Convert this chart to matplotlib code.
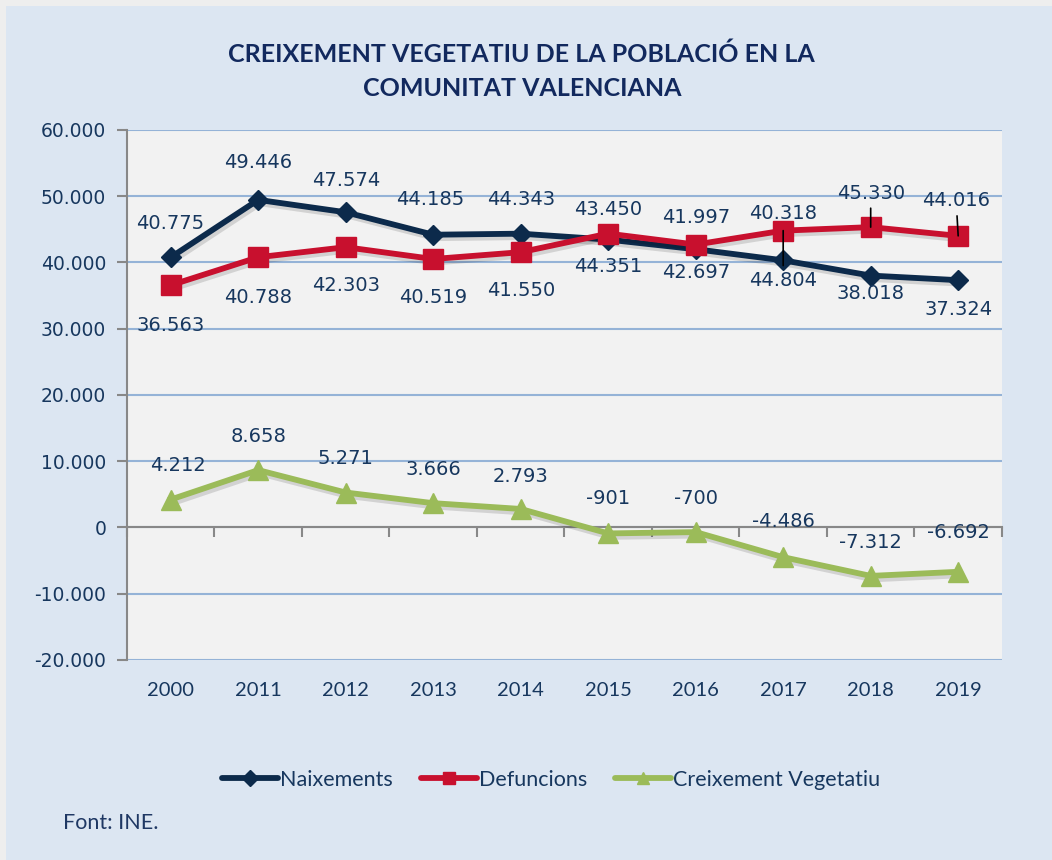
import matplotlib
matplotlib.use("Agg")
import matplotlib.pyplot as plt
import matplotlib.patheffects as pe
from matplotlib.patches import Rectangle
from matplotlib.lines import Line2D

years = ["2000", "2011", "2012", "2013", "2014", "2015", "2016", "2017", "2018", "2019"]
naixements = [40775, 49446, 47574, 44185, 44343, 43450, 41997, 40318, 38018, 37324]
defuncions = [36563, 40788, 42303, 40519, 41550, 44351, 42697, 44804, 45330, 44016]
creixement = [4212, 8658, 5271, 3666, 2793, -901, -700, -4486, -7312, -6692]

# label offsets in pixels (dx, dy) relative to each marker, positive dy = up
naix_off = [(-1, 34), (0, 37), (0, 32), (-3, 35), (0, 34), (0, 30), (0, 32), (0, 47), (0, -18), (0, -29)]
def_off = [(0, -40), (0, -40), (0, -38), (0, -38), (0, -38), (0, -33), (0, -28), (0, -50), (0, 34), (-2, 35)]
def_leader = [False] * 7 + [True] * 3
cre_off = [(7, 34), (0, 34), (0, 34), (0, 34), (0, 32), (0, 35), (0, 34), (0, 36), (0, 33), (0, 39)]

navy = "#0c2a4b"
red = "#c8102e"
green = "#9bbb59"
txt = "#17375e"
bg = "#dce6f2"


def fmt(v):
    return f"{v:,}".replace(",", ".")


fig = plt.figure(figsize=(10.52, 8.6), dpi=100)
fig.patch.set_facecolor("#eeeeee")
fig.patches.append(Rectangle((0.006, 0), 0.994, 0.993, transform=fig.transFigure,
                             facecolor=bg, edgecolor="none", zorder=-10))

ax = fig.add_axes([0.1207, 0.2326, 0.8317, 0.6163])
ax.set_facecolor("#f2f2f2")
x = list(range(len(years)))

shadow = [pe.SimpleLineShadow(offset=(1.5, -2.5), alpha=0.13, shadow_color="black"), pe.Normal()]
series = [
    (naixements, navy, "D", 10.5, "Naixements", 4),
    (defuncions, red, "s", 14, "Defuncions", 5),
    (creixement, green, "^", 14, "Creixement Vegetatiu", 3),
]
handles = []
for vals, col, mk, ms, name, z in series:
    ax.plot(x, vals, color=col, lw=4.2, path_effects=shadow, zorder=z, solid_joinstyle="round")
    ax.plot(x, vals, ls="none", marker=mk, ms=ms, color=col, zorder=z + 0.1)
    handles.append(Line2D([], [], color=col, lw=4.2, marker=mk, ms=8, label=name,
                          solid_capstyle="round"))

lab = dict(fontsize=14, color=txt, ha="center", va="center", textcoords="offset pixels",
           zorder=6, family="DejaVu Sans")
for i, v in enumerate(naixements):
    ax.annotate(fmt(v), (i, v), xytext=naix_off[i], **lab)
for i, v in enumerate(defuncions):
    ap = dict(arrowstyle="-", color="black", lw=1.2, shrinkA=2, shrinkB=0) if def_leader[i] else None
    ax.annotate(fmt(v), (i, v), xytext=def_off[i], arrowprops=ap, **lab)
for i, v in enumerate(creixement):
    ax.annotate(fmt(v), (i, v), xytext=cre_off[i], **lab)

ax.set_xlim(-0.5, len(years) - 0.5)
ax.set_ylim(-20000, 60000)
yt = list(range(-20000, 60001, 10000))
ax.set_yticks(yt)
ax.set_yticklabels([fmt(v) for v in yt], fontsize=13.5, color=txt, family="DejaVu Sans")
ax.tick_params(axis="y", length=7, width=1.5, color="#888888", pad=8)
ax.yaxis.grid(True, color="#95b3d7", lw=1.5)
ax.set_axisbelow(True)

for s in ["top", "right"]:
    ax.spines[s].set_visible(False)
ax.spines["left"].set_color("#888888")
ax.spines["left"].set_linewidth(1.5)
ax.spines["bottom"].set_position(("data", 0))
ax.spines["bottom"].set_color("#888888")
ax.spines["bottom"].set_linewidth(1.5)
ax.set_xticks([i - 0.5 for i in range(len(years) + 1)])
ax.set_xticklabels([])
ax.tick_params(axis="x", length=7, width=1.5, color="#888888")
for i, yr in enumerate(years):
    ax.text(i, -0.058, yr, transform=ax.get_xaxis_transform(), ha="center", va="center",
            fontsize=14.5, color=txt, family="Lato")

fig.text(0.496, 0.917, "CREIXEMENT VEGETATIU DE LA POBLACIÓ EN LA\nCOMUNITAT VALENCIANA",
         ha="center", va="center", fontsize=18, fontweight="bold", color="#12295e",
         family="Lato", linespacing=1.55)

leg = fig.legend(handles=handles, loc="center", bbox_to_anchor=(0.524, 0.093), ncol=3,
                 frameon=False, prop={"family": "Lato", "size": 15.5}, handlelength=2.6,
                 handletextpad=0.1, columnspacing=1.3)
for t in leg.get_texts():
    t.set_color(txt)

fig.text(0.06, 0.043, "Font: INE.", fontsize=15.5, color="#1f3864", family="Lato", va="center")

fig.savefig("out.png", dpi=100, facecolor=fig.get_facecolor())
